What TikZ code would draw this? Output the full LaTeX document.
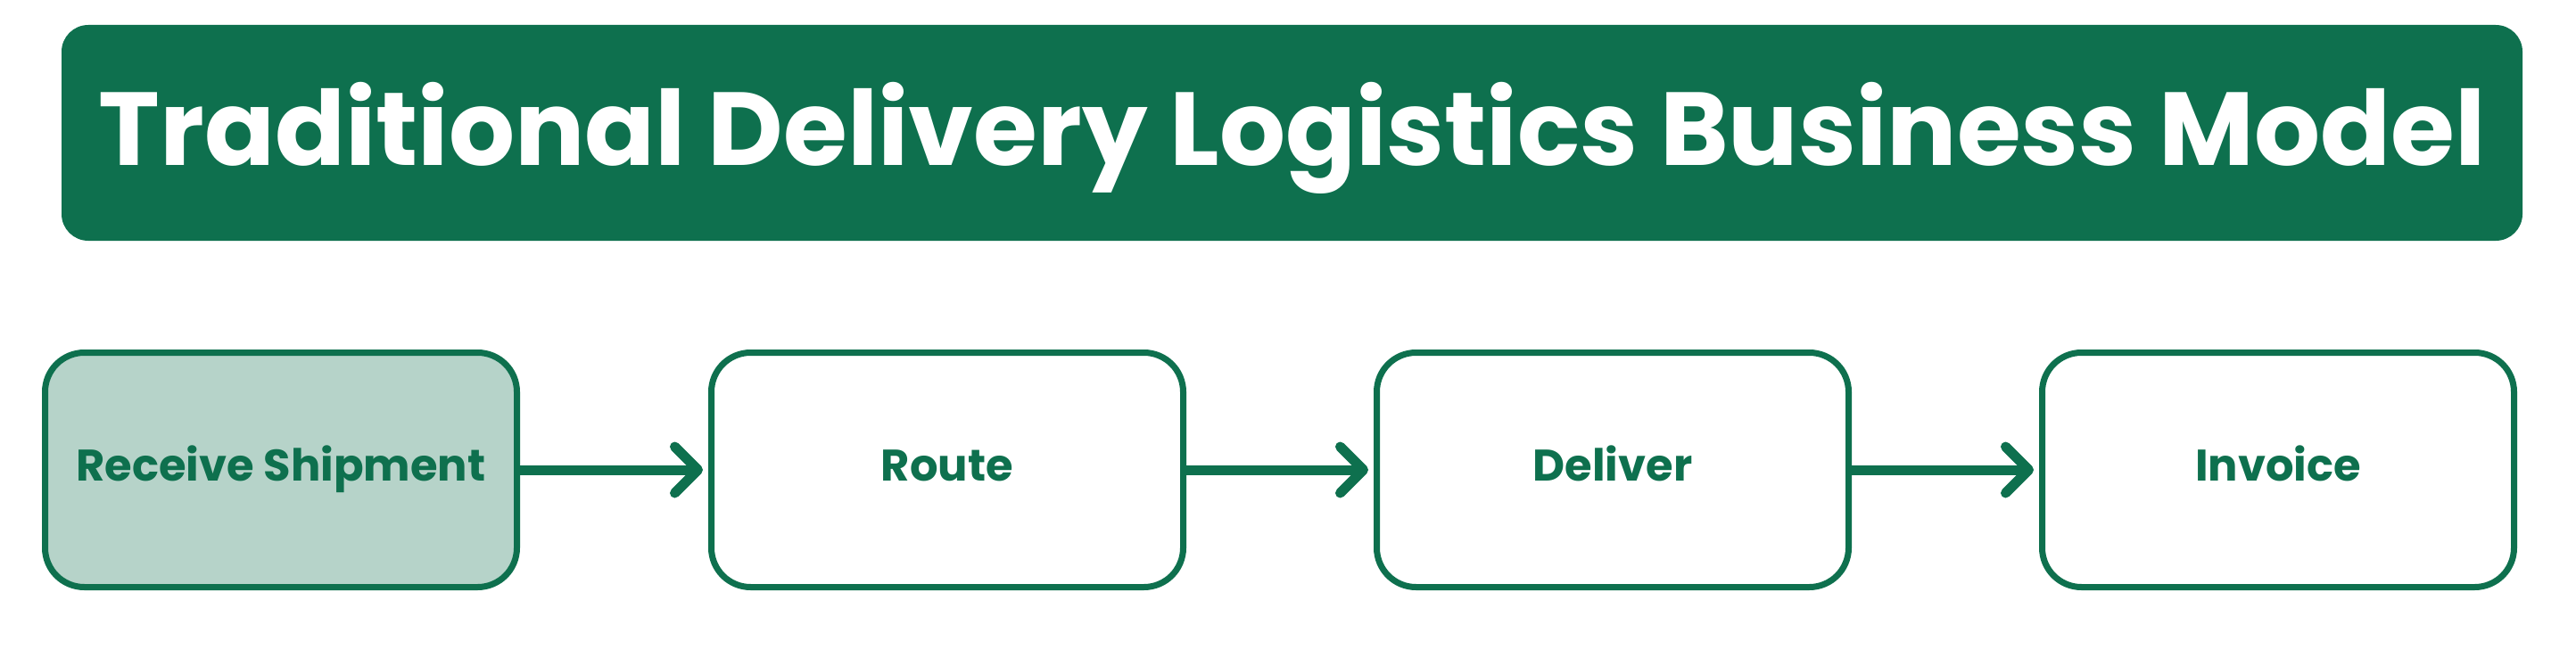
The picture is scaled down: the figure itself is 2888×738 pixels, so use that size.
\documentclass[tikz,border=0pt]{standalone}
\usepackage{fontspec}
\setmainfont{Poppins}
\usetikzlibrary{arrows.meta}
\definecolor{dgreen}{HTML}{0E704E}
\definecolor{lgreen}{HTML}{B6D3C9}
\begin{document}
\begin{tikzpicture}[x=0.5pt,y=-0.5pt,
 titlebox/.style={fill=dgreen, rounded corners=15pt, minimum width=1379.5pt, minimum height=121pt, inner sep=0pt, text=white, font=\fontsize{58.2}{60}\selectfont\bfseries, text height=41pt, text depth=4.5pt},
 stepbox/.style={draw=dgreen, line width=3.5pt, rounded corners=22pt, minimum width=264.5pt, minimum height=131.5pt, inner sep=0pt, text=dgreen, font=\fontsize{24.8}{26}\selectfont\bfseries, text height=17.5pt, text depth=5pt, fill=white},
 flow/.style={draw=dgreen, line width=5.5pt, shorten >=3pt, -{Straight Barb[length=13pt, width=26pt, round]}}
]
\useasboundingbox (0,0) rectangle (2888,738);
\node[titlebox] (title) at (1448.5,149) {Traditional Delivery Logistics Business Model};
\node[stepbox, fill=lgreen] (b1) at (315,527) {Receive Shipment};
\node[stepbox] (b2) at (1062,527) {Route};
\node[stepbox] (b3) at (1808,527) {Deliver};
\node[stepbox] (b4) at (2554,527) {Invoice};
\draw[flow] (b1.east) -- (b2.west);
\draw[flow] (b2.east) -- (b3.west);
\draw[flow] (b3.east) -- (b4.west);
\end{tikzpicture}
\end{document}
